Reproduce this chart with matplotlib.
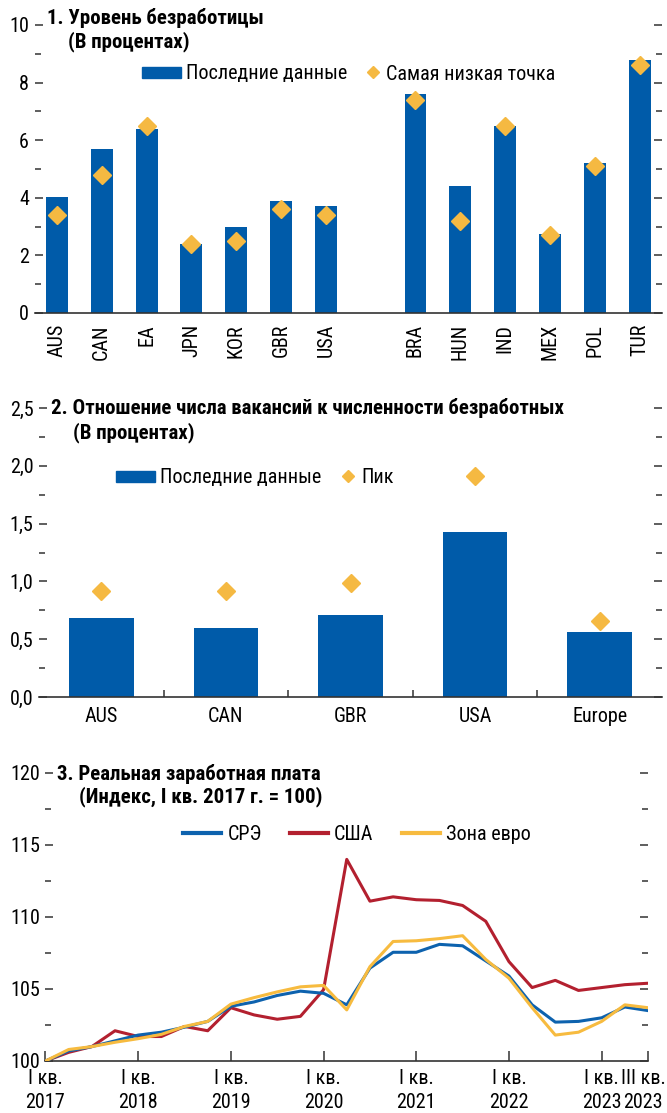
import matplotlib.pyplot as plt
from matplotlib import font_manager
from matplotlib.lines import Line2D
from matplotlib.patches import Patch
from matplotlib.ticker import MultipleLocator, FixedLocator
from matplotlib.transforms import ScaledTranslation

# узкий шрифт, если есть
avail = {f.name for f in font_manager.fontManager.ttflist}
FAMILY, FS, TFS = "Liberation Sans", 12, 12.5
for fam, size, tsize in [("Arial Narrow", 14, 14.5), ("Liberation Sans Narrow", 14, 14.5),
                         ("Roboto Condensed", 14.5, 15), ("PT Sans Narrow", 15, 15.5)]:
    if fam in avail:
        FAMILY, FS, TFS = fam, size, tsize
        break
plt.rcParams['font.family'] = [FAMILY, 'DejaVu Sans']

# Панель 1: уровень безработицы
unemp_countries = ["AUS", "CAN", "EA", "JPN", "KOR", "GBR", "USA",
                   "BRA", "HUN", "IND", "MEX", "POL", "TUR"]
unemp_pos = [0, 1, 2, 3, 4, 5, 6, 8, 9, 10, 11, 12, 13]
unemp_latest = [4.03, 5.7, 6.4, 2.4, 3.0, 3.9, 3.7, 7.6, 4.4, 6.5, 2.75, 5.2, 8.8]
unemp_lowest = [3.4, 4.8, 6.5, 2.4, 2.5, 3.6, 3.4, 7.4, 3.2, 6.5, 2.7, 5.1, 8.6]

# Панель 2: вакансии / безработные
vac_countries = ["AUS", "CAN", "GBR", "USA", "Europe"]
vac_latest = [0.68, 0.60, 0.71, 1.43, 0.56]
vac_peak = [0.92, 0.92, 0.99, 1.915, 0.66]

# Панель 3: реальная зарплата, I кв. 2017 - III кв. 2023
wage_ae = [100.0, 100.7, 101.0, 101.4, 101.8, 102.0, 102.35, 102.75, 103.8, 104.1,
           104.55, 104.85, 104.7, 103.9, 106.45, 107.55, 107.55, 108.1, 108.0, 106.95,
           105.9, 103.9, 102.7, 102.75, 103.0, 103.75, 103.5]
wage_us = [100.0, 100.6, 101.0, 102.1, 101.7, 101.7, 102.4, 102.1, 103.7, 103.2,
           102.9, 103.1, 104.95, 114.0, 111.1, 111.4, 111.2, 111.15, 110.8, 109.7,
           106.9, 105.1, 105.6, 104.9, 105.1, 105.3, 105.4]
wage_ea = [100.0, 100.8, 101.0, 101.3, 101.55, 101.85, 102.4, 102.75, 103.95, 104.4,
           104.8, 105.15, 105.25, 103.55, 106.55, 108.3, 108.35, 108.5, 108.7, 107.05,
           105.75, 103.7, 101.8, 102.0, 102.75, 103.9, 103.7]
wage_ticks = [0, 4, 8, 12, 16, 20, 24, 26]
wage_ticklabels = ["I кв.\n2017", "I кв.\n2018", "I кв.\n2019", "I кв.\n2020",
                   "I кв.\n2021", "I кв.\n2022", "I кв.\n2023", "III кв.\n2023"]

BLUE = "#005ba9"
GOLD = "#f5b942"
RED = "#b3202f"
LBLUE = "#0d62ae"
YELLOW = "#f7bb3f"
DARK = "#333333"

W, H = 667, 1113
fig = plt.figure(figsize=(W / 100, H / 100), dpi=100)


def px_axes(x0, x1, y_top, y_bot):
    return fig.add_axes([x0 / W, 1 - y_bot / H, (x1 - x0) / W, (y_bot - y_top) / H])


def style(ax):
    for s in ["left", "right", "top"]:
        ax.spines[s].set_visible(False)
    ax.spines["bottom"].set_color(DARK)
    ax.spines["bottom"].set_linewidth(1.2)
    ax.tick_params(axis="y", which="both", direction="in", left=True, right=True,
                   color=DARK, width=1.1, labelsize=FS, pad=4)
    ax.tick_params(axis="y", which="major", length=5.5)
    ax.tick_params(axis="y", which="minor", length=4)


def ftext(x, y, s, **kw):
    fig.text(x / W, 1 - y / H, s, va="center", ha="left", fontsize=TFS,
             fontweight="bold", **kw)


def fig_anchor(x, y):
    return (x / W, 1 - y / H)


# ---- Панель 1
ax1 = px_axes(34.5, 662, 25, 313)
style(ax1)
ax1.bar(unemp_pos, unemp_latest, width=0.49, color=BLUE, zorder=2)
ax1.plot(unemp_pos, unemp_lowest, "D", color=GOLD, markersize=9, linestyle="none", zorder=3)
ax1.set_xlim(-0.5, 13.5)
ax1.set_ylim(0, 10)
ax1.yaxis.set_major_locator(MultipleLocator(2))
ax1.yaxis.set_minor_locator(MultipleLocator(1))
ax1.set_xticks(unemp_pos)
ax1.set_xticklabels(unemp_countries, rotation=90, fontsize=FS)
ax1.tick_params(axis="x", length=0, pad=8)
ftext(47, 18, "1. Уровень безработицы")
ftext(68, 42, "(В процентах)")
fig.legend(handles=[Patch(color=BLUE)], labels=["Последние данные"],
           loc="center left", bbox_to_anchor=fig_anchor(142, 74), frameon=False,
           fontsize=FS, handlelength=1.95, handleheight=0.5, handletextpad=0.25,
           borderpad=0, borderaxespad=0)
fig.legend(handles=[Line2D([], [], marker="D", color=GOLD, linestyle="none", markersize=6)],
           labels=["Самая низкая точка"], loc="center left",
           bbox_to_anchor=fig_anchor(366, 74), frameon=False, fontsize=FS,
           handlelength=0.7, handletextpad=0.3, borderpad=0, borderaxespad=0)

# ---- Панель 2
ax2 = px_axes(39, 662, 408, 697)
style(ax2)
pos2 = list(range(len(vac_countries)))
ax2.bar(pos2, vac_latest, width=0.52, color=BLUE, zorder=2)
ax2.plot(pos2, vac_peak, "D", color=GOLD, markersize=9.5, linestyle="none", zorder=3)
ax2.set_xlim(-0.5, 4.5)
ax2.set_ylim(0, 2.5)
ax2.yaxis.set_major_locator(MultipleLocator(0.5))
ax2.yaxis.set_minor_locator(MultipleLocator(0.25))
ax2.yaxis.set_major_formatter(lambda v, p: f"{v:.1f}".replace(".", ","))
ax2.set_xticks(pos2)
ax2.set_xticklabels(vac_countries, fontsize=FS)
ax2.xaxis.set_minor_locator(FixedLocator([0.5, 1.5, 2.5, 3.5]))
ax2.tick_params(axis="x", which="major", length=0, pad=7)
ax2.tick_params(axis="x", which="minor", direction="in", length=5, color=DARK, width=1.1)
ftext(51, 408, "2. Отношение числа вакансий к численности безработных")
ftext(73, 433, "(В процентах)")
fig.legend(handles=[Patch(color=BLUE)], labels=["Последние данные"],
           loc="center left", bbox_to_anchor=fig_anchor(116, 478), frameon=False,
           fontsize=FS, handlelength=1.95, handleheight=0.5, handletextpad=0.25,
           borderpad=0, borderaxespad=0)
fig.legend(handles=[Line2D([], [], marker="D", color=GOLD, linestyle="none", markersize=6)],
           labels=["Пик"], loc="center left",
           bbox_to_anchor=fig_anchor(341, 478), frameon=False, fontsize=FS,
           handlelength=0.7, handletextpad=0.3, borderpad=0, borderaxespad=0)

# ---- Панель 3
ax3 = px_axes(45.5, 648, 773, 1061)
style(ax3)
q = list(range(len(wage_ae)))
ax3.plot(q, wage_ae, color=LBLUE, lw=2.2, zorder=3, label="СРЭ")
ax3.plot(q, wage_us, color=RED, lw=2.2, zorder=2, label="США")
ax3.plot(q, wage_ea, color=YELLOW, lw=2.2, zorder=4, label="Зона евро")
ax3.set_xlim(0, 26)
ax3.set_ylim(100, 120)
ax3.yaxis.set_major_locator(MultipleLocator(5))
ax3.yaxis.set_minor_locator(MultipleLocator(2.5))
ax3.set_xticks(wage_ticks)
ax3.set_xticklabels(wage_ticklabels, fontsize=FS, linespacing=1.3)
ax3.tick_params(axis="x", direction="in", length=7, color=DARK, width=1.1, pad=6)
# последняя подпись чуть левее, чтобы не обрезалась
last = ax3.get_xticklabels()[-1]
last.set_transform(last.get_transform() + ScaledTranslation(-5 / 100, 0, fig.dpi_scale_trans))
ftext(57, 774, "3. Реальная заработная плата")
ftext(79, 797, "(Индекс, I кв. 2017 г. = 100)")
h3 = [Line2D([], [], color=LBLUE, lw=3), Line2D([], [], color=RED, lw=3),
      Line2D([], [], color=YELLOW, lw=3)]
fig.legend(handles=h3, labels=["СРЭ", "США", "Зона евро"], ncol=3,
           loc="center left", bbox_to_anchor=fig_anchor(183, 835), frameon=False,
           fontsize=FS, handlelength=1.9, handletextpad=0.3, columnspacing=1.4,
           borderpad=0, borderaxespad=0)

fig.savefig("out.png", dpi=100)
